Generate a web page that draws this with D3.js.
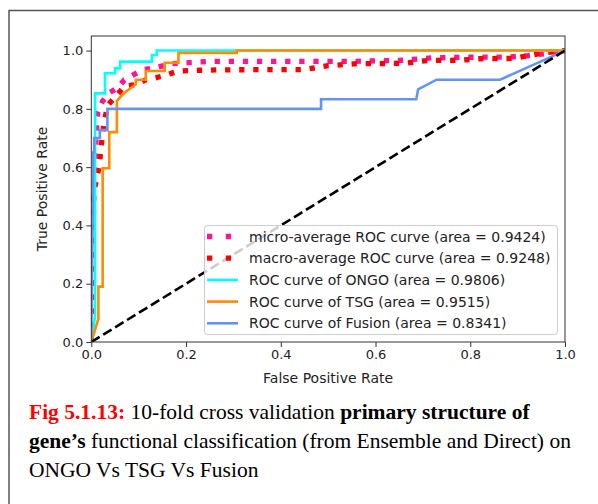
<!DOCTYPE html>
<html>
<head>
<meta charset="utf-8">
<script src="https://cdn.jsdelivr.net/npm/d3@7"></script>
<style>
  html, body { margin: 0; padding: 0; background: #fff; }
  svg { display: block; }
</style>
</head>
<body>
<svg id="chart" width="598" height="504"></svg>
<script>
// ---------------- data ----------------
const xTicks = [0, 0.2, 0.4, 0.6, 0.8, 1.0];
const yTicks = [0, 0.2, 0.4, 0.6, 0.8, 1.0];

const microFpr = [0, 0.003, 0.006, 0.01, 0.0135, 0.024, 0.038, 0.056, 0.07, 0.087, 0.109, 0.135, 0.17, 0.25, 0.4, 0.55, 0.65, 0.72, 0.8, 0.88, 0.92, 0.96, 1];
const microTpr = [0, 0.3, 0.55, 0.7, 0.79, 0.827, 0.855, 0.872, 0.9, 0.915, 0.935, 0.941, 0.955, 0.963, 0.963, 0.963, 0.966, 0.975, 0.977, 0.978, 0.982, 0.99, 1];

const macroFpr = [0, 0.003, 0.004, 0.017, 0.02, 0.027, 0.035, 0.049, 0.07, 0.098, 0.115, 0.128, 0.156, 0.184, 0.22, 0.28, 0.45, 0.5, 0.56, 0.66, 0.71, 0.78, 0.82, 0.89, 0.93, 0.96, 1];
const macroTpr = [0, 0.25, 0.5, 0.607, 0.659, 0.756, 0.813, 0.838, 0.878, 0.884, 0.9, 0.903, 0.915, 0.93, 0.932, 0.934, 0.935, 0.948, 0.955, 0.956, 0.966, 0.967, 0.972, 0.973, 0.985, 0.993, 1];

const ongoFpr = [0, 0.008, 0.008, 0.029, 0.029, 0.05, 0.05, 0.061, 0.061, 0.128, 0.128, 0.138, 0.138, 1];
const ongoTpr = [0, 0.09, 0.853, 0.853, 0.922, 0.922, 0.939, 0.939, 0.962, 0.962, 0.985, 0.985, 1, 1];

const tsgFpr = [0, 0.015, 0.015, 0.024, 0.024, 0.038, 0.038, 0.054, 0.054, 0.063, 0.075, 0.094, 0.094, 0.115, 0.115, 0.155, 0.155, 0.184, 0.184, 0.307, 0.307, 1];
const tsgTpr = [0, 0.08, 0.19, 0.19, 0.596, 0.596, 0.72, 0.72, 0.827, 0.844, 0.861, 0.884, 0.9, 0.9, 0.93, 0.93, 0.958, 0.958, 0.992, 0.992, 1, 1];

const fusionFpr = [0, 0.004, 0.004, 0.006, 0.006, 0.018, 0.018, 0.034, 0.034, 0.485, 0.485, 0.686, 0.69, 0.729, 0.863, 1];
const fusionTpr = [0, 0.6, 0.65, 0.65, 0.7, 0.7, 0.727, 0.727, 0.8, 0.8, 0.833, 0.833, 0.867, 0.9, 0.9, 1];

const diagFpr = [0, 1];
const diagTpr = [0, 1];

const legendLabels = [
  "micro-average ROC curve (area = 0.9424)",
  "macro-average ROC curve (area = 0.9248)",
  "ROC curve of ONGO (area = 0.9806)",
  "ROC curve of TSG (area = 0.9515)",
  "ROC curve of Fusion (area = 0.8341)"
];

// ---------------- drawing ----------------
const svg = d3.select("#chart");
const font = "'DejaVu Sans', sans-serif";

// outer frame of the figure page
svg.append("path")
  .attr("d", "M9,504 L9,10.5 L598,10.5")
  .attr("fill", "none").attr("stroke", "#555").attr("stroke-width", 1.5);

const L = 91.3, R = 565, T = 36, B = 342;
const x = d3.scaleLinear().domain([0, 1]).range([L, R]);
const y = d3.scaleLinear().domain([0, 1.05]).range([B, T]);

svg.append("defs").append("clipPath").attr("id", "clip")
  .append("rect").attr("x", L).attr("y", T).attr("width", R - L).attr("height", B - T);

const line = d3.line().x(d => x(d[0])).y(d => y(d[1]));
const zip = (a, b) => a.map((v, i) => [v, b[i]]);

const series = [
  { fpr: microFpr, tpr: microTpr, color: "#FF1493", width: 5.3, dash: "5.3,8.8" },
  { fpr: macroFpr, tpr: macroTpr, color: "#FF0000", width: 5.3, dash: "5.3,8.8" },
  { fpr: ongoFpr, tpr: ongoTpr, color: "#00FFFF", width: 2.6, dash: null },
  { fpr: tsgFpr, tpr: tsgTpr, color: "#FF8C00", width: 2.6, dash: null },
  { fpr: fusionFpr, tpr: fusionTpr, color: "#6495ED", width: 2.6, dash: null },
  { fpr: diagFpr, tpr: diagTpr, color: "#000000", width: 2.6, dash: "9.8,4.2" }
];

const plot = svg.append("g").attr("clip-path", "url(#clip)");
series.forEach(s => {
  plot.append("path")
    .datum(zip(s.fpr, s.tpr))
    .attr("d", line)
    .attr("fill", "none")
    .attr("stroke", s.color)
    .attr("stroke-width", s.width)
    .attr("stroke-dasharray", s.dash)
    .attr("stroke-linejoin", "miter")
    .attr("stroke-linecap", "butt");
});

// axes
const fmt = d3.format(".1f");
const gx = svg.append("g").attr("transform", `translate(0,${B})`)
  .call(d3.axisBottom(x).tickValues(xTicks).tickFormat(fmt).tickSize(5).tickSizeOuter(0).tickPadding(3));
const gy = svg.append("g").attr("transform", `translate(${L},0)`)
  .call(d3.axisLeft(y).tickValues(yTicks).tickFormat(fmt).tickSize(5).tickSizeOuter(0).tickPadding(3));
[gx, gy].forEach(g => {
  g.select(".domain").remove();
  g.selectAll("line").attr("stroke", "#333").attr("stroke-width", 1);
  g.selectAll("text").attr("font-family", font).attr("font-size", 13).attr("fill", "#222");
});

// plot frame
svg.append("rect").attr("x", L).attr("y", T).attr("width", R - L).attr("height", B - T)
  .attr("fill", "none").attr("stroke", "#333").attr("stroke-width", 1);

// axis labels
svg.append("text").attr("x", (L + R) / 2).attr("y", 383).attr("text-anchor", "middle")
  .attr("font-family", font).attr("font-size", 14).attr("fill", "#222").text("False Positive Rate");
svg.append("text").attr("transform", `translate(47,${(T + B) / 2}) rotate(-90)`).attr("text-anchor", "middle")
  .attr("font-family", font).attr("font-size", 14).attr("fill", "#222").text("True Positive Rate");

// legend
const lg = svg.append("g");
lg.append("rect").attr("x", 204.5).attr("y", 225.5).attr("width", 353).attr("height", 109).attr("rx", 3)
  .attr("fill", "#fff").attr("fill-opacity", 0.8).attr("stroke", "#ccc").attr("stroke-width", 1);
legendLabels.forEach((lab, i) => {
  const s = series[i];
  const yy = 236.5 + i * 21.7;
  lg.append("line").attr("x1", 207).attr("x2", 238).attr("y1", yy).attr("y2", yy)
    .attr("stroke", s.color).attr("stroke-width", s.width)
    .attr("stroke-dasharray", s.dash ? "5.3,13.5" : null);
  lg.append("text").attr("x", 249).attr("y", yy + 5).attr("font-family", font)
    .attr("font-size", 14).attr("fill", "#222").text(lab);
});

// caption
const serif = "'Liberation Serif', 'Times New Roman', serif";
const cap = svg.append("text").attr("font-family", serif).attr("font-size", 21.5).attr("fill", "#000");
const l1 = cap.append("tspan").attr("x", 29).attr("y", 419);
l1.append("tspan").attr("font-weight", "bold").attr("fill", "#FF0000").text("Fig 5.1.13:");
l1.append("tspan").text(" 10-fold cross validation ");
l1.append("tspan").attr("font-weight", "bold").text("primary structure of");
const l2 = cap.append("tspan").attr("x", 29).attr("y", 448);
l2.append("tspan").attr("font-weight", "bold").text("gene\u2019s");
l2.append("tspan").text(" functional classification (from Ensemble and Direct) on");
cap.append("tspan").attr("x", 29).attr("y", 477).text("ONGO Vs TSG Vs Fusion");
</script>
</body>
</html>
